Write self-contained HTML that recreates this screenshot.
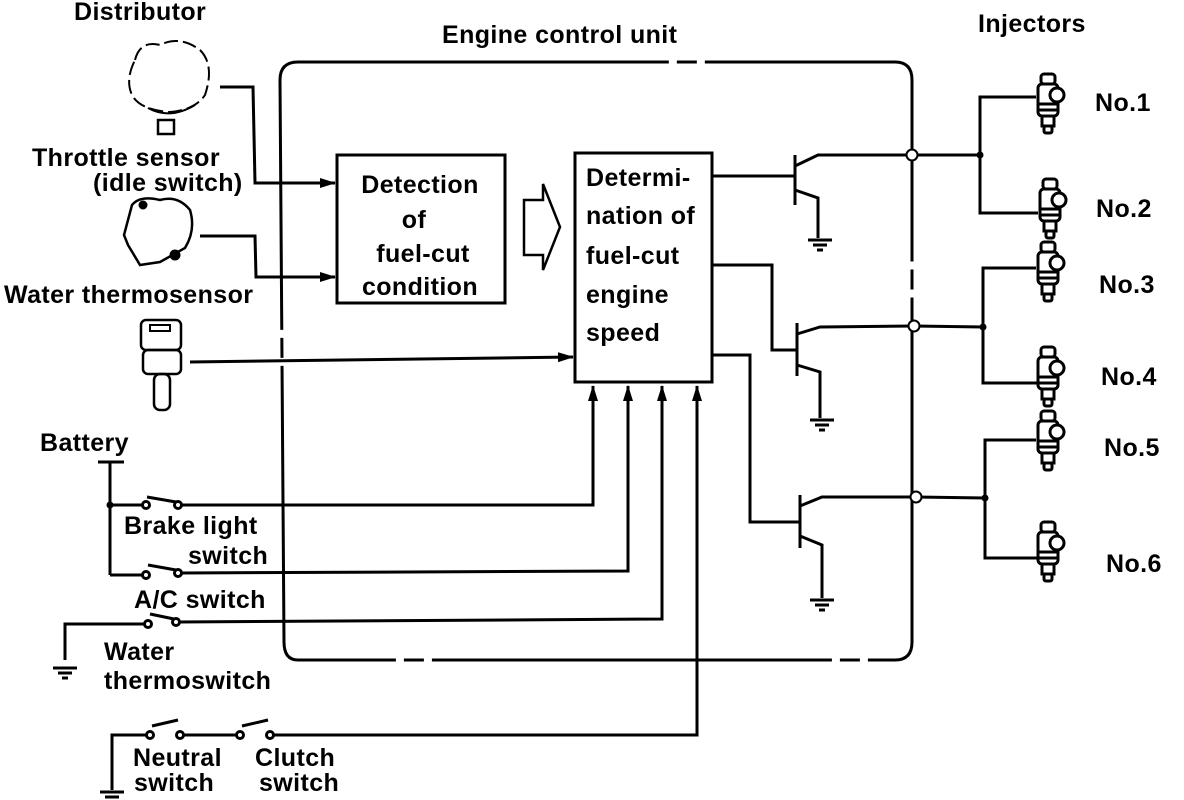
<!DOCTYPE html>
<html><head><meta charset="utf-8"><style>
html,body{margin:0;padding:0;background:#fff;}
svg{display:block;}
text{font-family:"Liberation Sans",Arial,sans-serif;font-weight:bold;font-size:25px;letter-spacing:0.4px;fill:#000;}
</style></head><body>
<svg width="1184" height="800" viewBox="0 0 1184 800" xmlns="http://www.w3.org/2000/svg">
<defs>
<marker id="a" markerWidth="16" markerHeight="10" refX="15" refY="5" orient="auto" markerUnits="userSpaceOnUse"><path d="M0,0 L16,5 L0,10 Z" fill="#000"/></marker>
<marker id="u" markerWidth="16" markerHeight="10" refX="15" refY="5" orient="auto" markerUnits="userSpaceOnUse"><path d="M0,0 L16,5 L0,10 Z" fill="#000"/></marker>
<g id="gnd"><line x1="-12" y1="0" x2="12" y2="0"/><line x1="-7" y1="5" x2="7" y2="5"/><line x1="-3" y1="10" x2="3" y2="10"/></g>
<g id="inj" fill="#fff" stroke="#000" stroke-width="3"><rect x="-7" y="-34" width="14" height="10" rx="3"/><rect x="-10" y="-24" width="20" height="32" rx="4"/><circle cx="9" cy="-13" r="7"/><path d="M-10,-4 h20 M-10,2 h20"/><rect x="-6" y="8" width="12" height="10"/><rect x="-4" y="18" width="8" height="7" rx="2"/></g>
</defs>
<g stroke="#000" stroke-width="3" fill="none">
<path d="M280,80 Q280,62 298,62 L895,62 Q912,62 912,80 L912,642 Q912,660 895,660 L298,660 Q284,660 284,642 Z" stroke-dasharray="400 8 20 8"/>
<rect x="337" y="155" width="168" height="148"/>
<rect x="575" y="153" width="137" height="229"/>
<path d="M524,200 L543,200 L543,184 L560,227 L543,270 L543,255 L524,255 Z" stroke-width="2.5"/>
<polyline points="220,87 253,87 255,183 335,183" marker-end="url(#a)"/>
<polyline points="200,236 255,236 256,277 335,277" marker-end="url(#a)"/>
<line x1="190" y1="362" x2="573" y2="357" marker-end="url(#a)"/>
<line x1="110" y1="462" x2="110" y2="575"/><line x1="98" y1="462" x2="124" y2="462"/>
<line x1="110" y1="505" x2="144" y2="505"/><line x1="110" y1="575" x2="144" y2="575"/>
<polyline points="181,505 593,505 593,386" marker-end="url(#u)"/>
<polyline points="181,573 628,571 628,386" marker-end="url(#u)"/>
<polyline points="65,660 65,624 146,624"/>
<polyline points="178,622 662,619 662,386" marker-end="url(#u)"/>
<use href="#gnd" x="65" y="668"/>
<polyline points="112,790 112,735 148,735"/>
<line x1="182" y1="735" x2="236" y2="735"/>
<polyline points="272,735 697,735 697,386" marker-end="url(#u)"/>
<use href="#gnd" x="112" y="792"/>
<circle cx="146" cy="505" r="3.5"/><circle cx="178" cy="505" r="3.5"/><line x1="147" y1="497" x2="176" y2="502"/>
<circle cx="146" cy="575" r="3.5"/><circle cx="178" cy="573" r="3.5"/><line x1="148" y1="565" x2="176" y2="570"/>
<circle cx="148" cy="624" r="3.5"/><circle cx="176" cy="622" r="3.5"/><line x1="150" y1="614" x2="174" y2="619"/>
<circle cx="150" cy="735" r="3.5"/><circle cx="180" cy="735" r="3.5"/><line x1="152" y1="726" x2="178" y2="720"/>
<circle cx="240" cy="735" r="3.5"/><circle cx="270" cy="735" r="3.5"/><line x1="242" y1="726" x2="268" y2="720"/>
<line x1="712" y1="176" x2="795" y2="176"/><line x1="795" y1="155" x2="795" y2="205"/>
<polyline points="795,166 818,155 912,155"/><polyline points="795,190 818,198 818,238"/><use href="#gnd" x="820" y="240"/>
<polyline points="712,265 772,265 772,350 797,350"/><line x1="797" y1="323" x2="797" y2="376"/>
<polyline points="797,334 820,327 914,326"/><polyline points="797,365 820,372 820,418"/><use href="#gnd" x="822" y="420"/>
<polyline points="712,355 750,355 750,522 800,522"/><line x1="800" y1="495" x2="800" y2="548"/>
<polyline points="800,506 822,497 916,497"/><polyline points="800,536 822,545 822,598"/><use href="#gnd" x="822" y="600"/>
<line x1="912" y1="155" x2="980" y2="155"/><line x1="914" y1="326" x2="983" y2="327"/><line x1="916" y1="497" x2="985" y2="498"/>
<polyline points="1036,97 980,97 980,213 1038,213"/>
<polyline points="1036,268 983,268 983,383 1038,383"/>
<polyline points="1036,440 985,440 985,558 1038,558"/>
<path d="M135,60 Q140,40 160,45 Q180,35 200,50 Q215,65 205,95 Q195,110 170,112 Q140,110 132,95 Q125,80 135,60 Z" stroke-width="2" stroke-dasharray="14 5"/>
<path d="M148,108 Q170,120 195,105" stroke-width="2"/>
<rect x="158" y="120" width="16" height="14" stroke-width="2.5"/>
<path d="M132,205 Q140,195 160,200 Q178,195 190,210 Q196,230 185,248 L160,262 L140,265 L128,245 L124,235 Z" stroke-width="2.5"/>
<circle cx="143" cy="205" r="3" fill="#000"/><circle cx="175" cy="255" r="4" fill="#000"/>
<rect x="141" y="320" width="40" height="30" rx="5" stroke-width="2.5"/><rect x="150" y="325" width="20" height="6" stroke-width="2"/>
<rect x="143" y="350" width="38" height="24" rx="5" stroke-width="2.5"/>
<rect x="154" y="374" width="16" height="36" rx="6" stroke-width="2.5"/>
</g>
<g stroke="#000" stroke-width="2" fill="#fff"><circle cx="912" cy="155" r="5.5"/><circle cx="914" cy="326" r="5.5"/><circle cx="916" cy="497" r="5.5"/></g>
<g fill="#000"><circle cx="980" cy="155" r="3.5"/><circle cx="983" cy="327" r="3.5"/><circle cx="985" cy="498" r="3.5"/><circle cx="110" cy="505" r="3.5"/></g>
<use href="#inj" x="1048" y="108"/><use href="#inj" x="1050" y="213"/><use href="#inj" x="1048" y="276"/>
<use href="#inj" x="1048" y="381"/><use href="#inj" x="1048" y="445"/><use href="#inj" x="1048" y="556"/>
<text x="74" y="20">Distributor</text>
<text x="442" y="43">Engine control unit</text>
<text x="978" y="32">Injectors</text>
<text x="32" y="166">Throttle sensor</text>
<text x="93" y="191">(idle switch)</text>
<text x="4" y="303">Water thermosensor</text>
<g text-anchor="middle">
<text x="420" y="193">Detection</text>
<text x="414" y="228">of</text>
<text x="423" y="262">fuel-cut</text>
<text x="420" y="295">condition</text>
</g>
<text x="586" y="186">Determi-</text>
<text x="586" y="224">nation of</text>
<text x="586" y="264">fuel-cut</text>
<text x="586" y="303">engine</text>
<text x="586" y="341">speed</text>
<text x="1095" y="111">No.1</text><text x="1096" y="217">No.2</text><text x="1099" y="293">No.3</text>
<text x="1101" y="385">No.4</text><text x="1104" y="456">No.5</text><text x="1106" y="572">No.6</text>
<text x="40" y="451">Battery</text>
<text x="124" y="534">Brake light</text>
<text x="188" y="564">switch</text>
<text x="134" y="608">A/C switch</text>
<text x="104" y="660">Water</text>
<text x="104" y="689">thermoswitch</text>
<text x="133" y="766">Neutral</text>
<text x="134" y="791">switch</text>
<text x="255" y="766">Clutch</text>
<text x="259" y="791">switch</text>
</svg>
</body></html>
